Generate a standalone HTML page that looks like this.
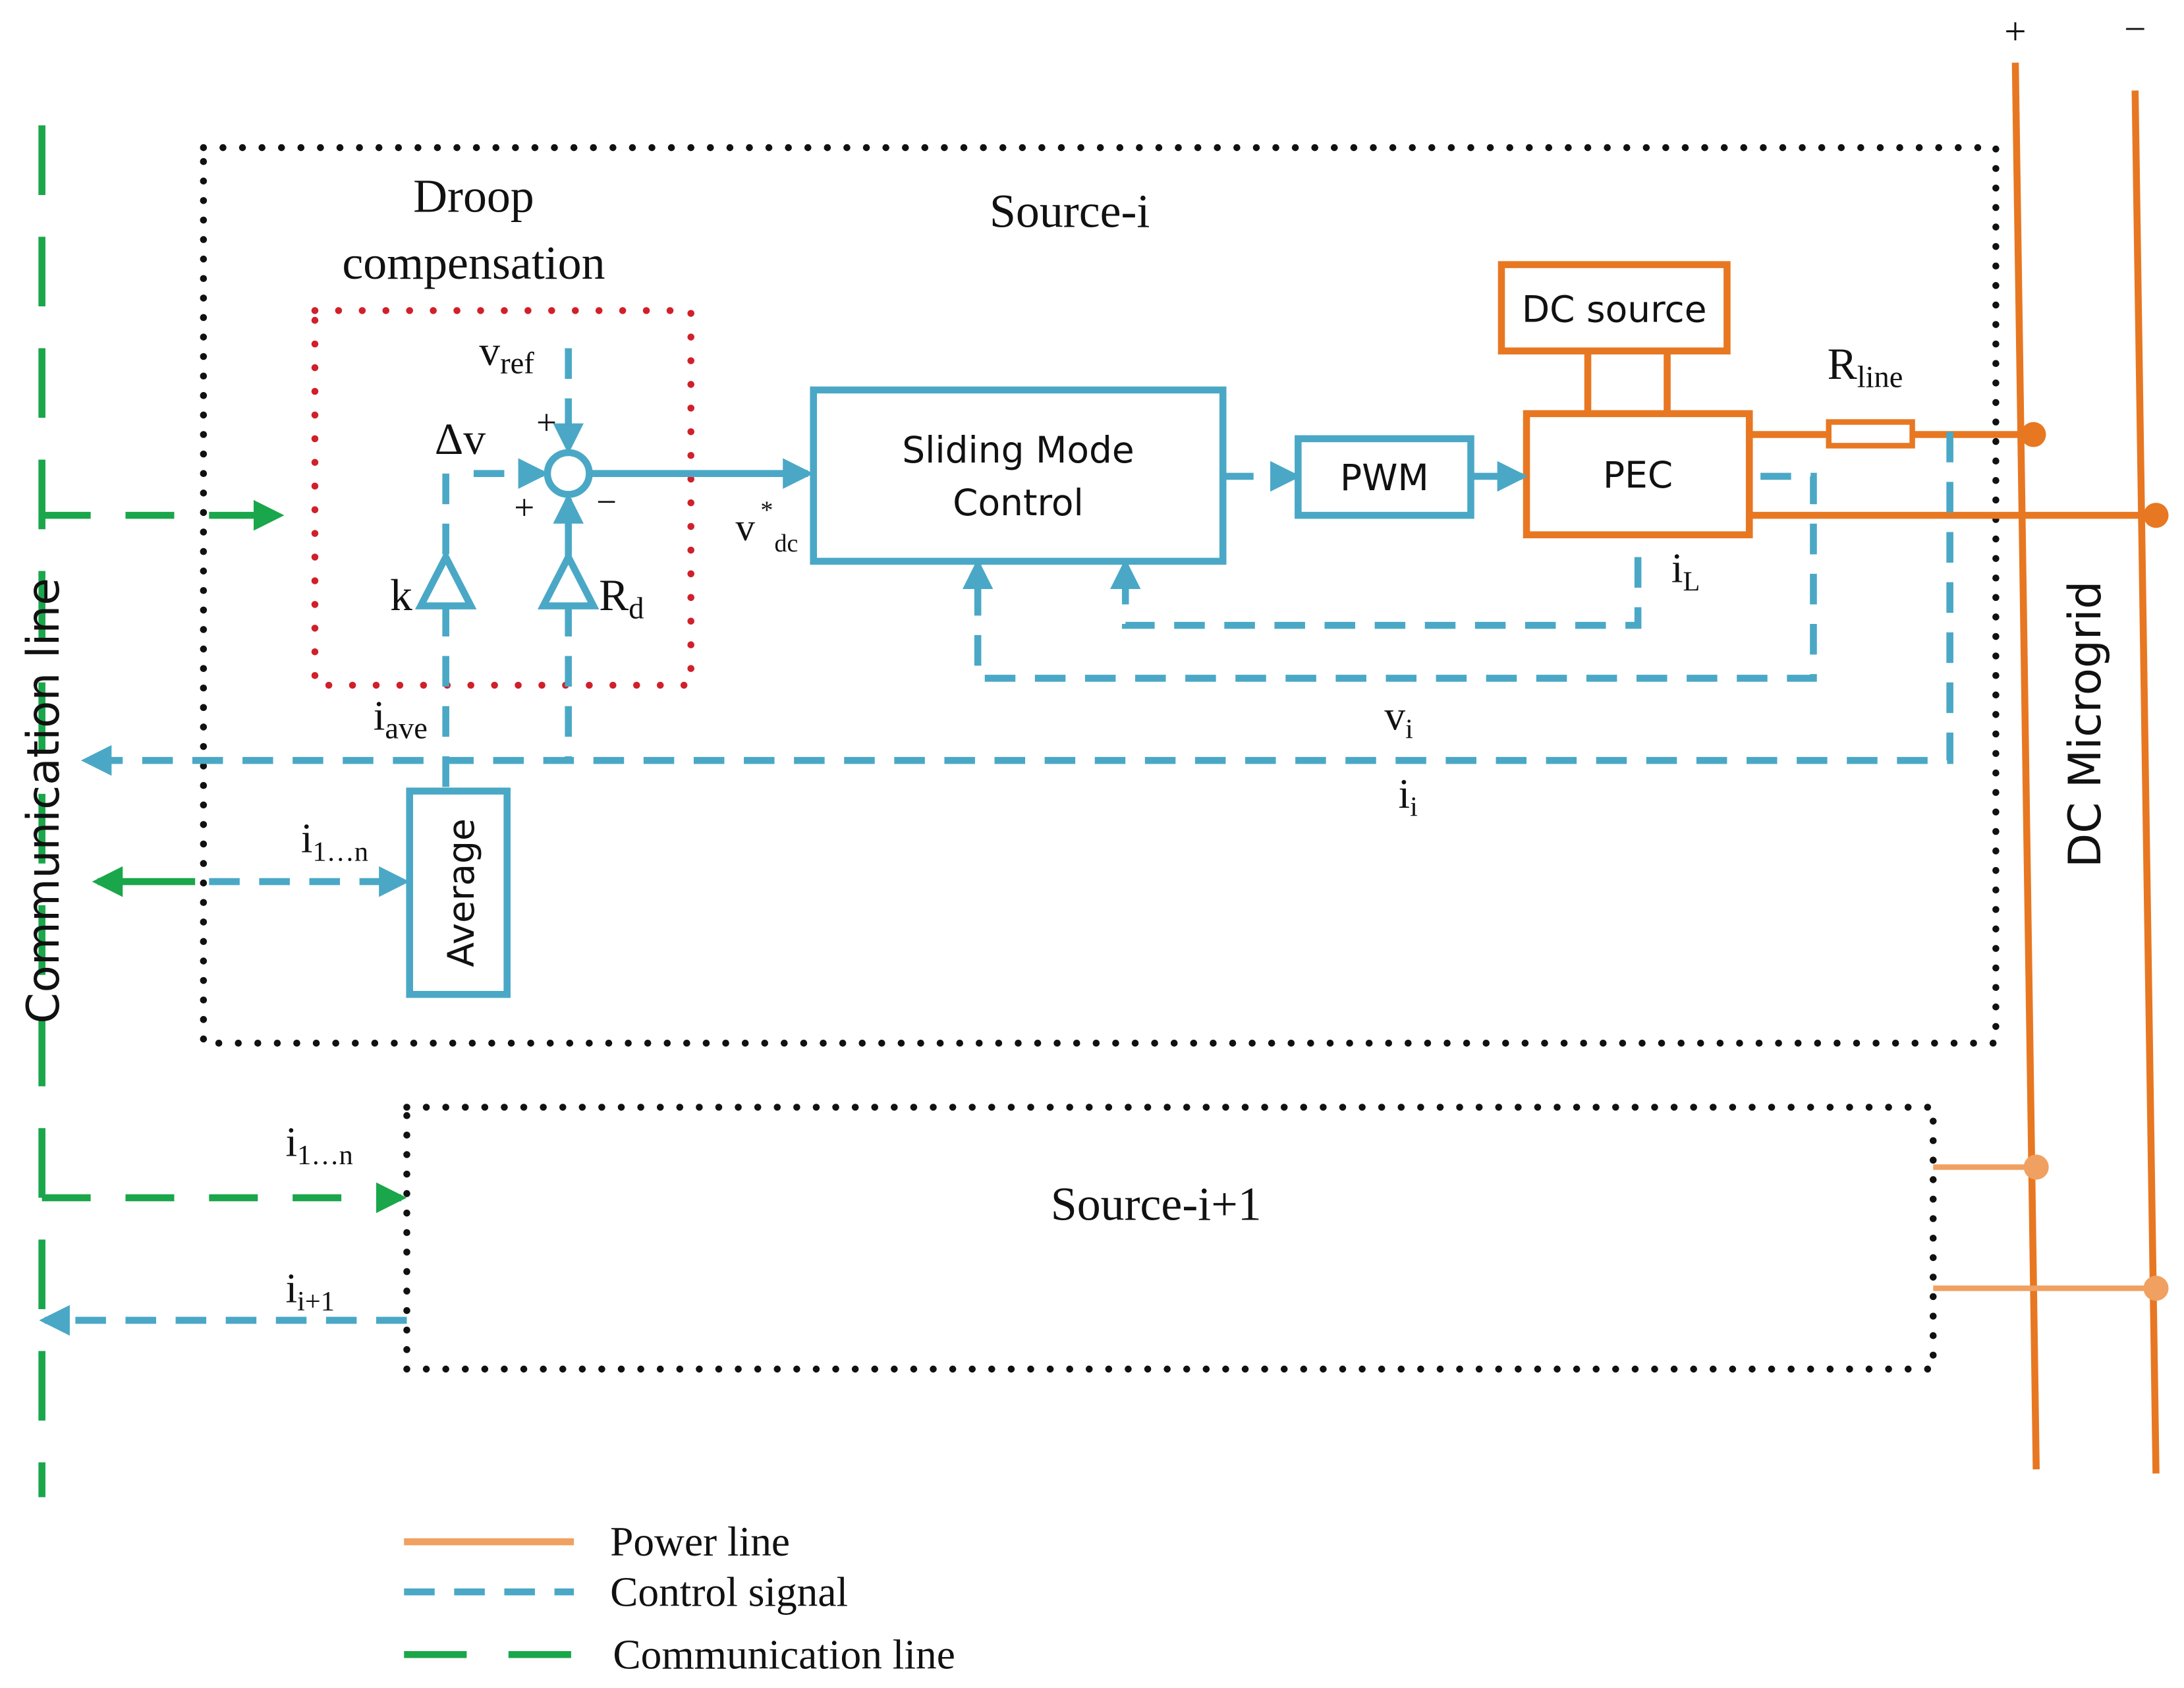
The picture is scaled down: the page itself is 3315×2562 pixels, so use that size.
<!DOCTYPE html>
<html><head><meta charset="utf-8"><style>
html,body{margin:0;padding:0;background:#fff}
svg{display:block}
text{font-family:"Liberation Serif",serif;fill:#111}
.s{font-family:"DejaVu Sans","Liberation Sans",sans-serif}
</style></head><body>
<svg width="3315" height="2562" viewBox="0 0 1568 1212" xmlns="http://www.w3.org/2000/svg">
<defs>
<marker id="ab" markerWidth="4.4" markerHeight="4.4" refX="3.6" refY="2.2" orient="auto" markerUnits="strokeWidth"><path d="M0,0 L4.4,2.2 L0,4.4 z" fill="#4aa8c6"/></marker>
<marker id="ag" markerWidth="4.4" markerHeight="4.4" refX="3.6" refY="2.2" orient="auto" markerUnits="strokeWidth"><path d="M0,0 L4.4,2.2 L0,4.4 z" fill="#1aa64a"/></marker>
</defs>
<g fill="none">
<rect x="146" y="106" width="1287" height="643" stroke="#111" stroke-width="5" stroke-dasharray="0 14" stroke-linecap="round"/>
<rect x="292" y="795" width="1096" height="188" stroke="#111" stroke-width="5" stroke-dasharray="0 14" stroke-linecap="round"/>
<rect x="226" y="223" width="270" height="269" stroke="#d0202a" stroke-width="5" stroke-dasharray="0 17" stroke-linecap="round"/>
<line x1="30" y1="90" x2="30" y2="1075" stroke="#1aa64a" stroke-width="5" stroke-dasharray="50 30"/>
<path d="M30 370 H200" stroke="#1aa64a" stroke-width="5" stroke-dasharray="35 25" marker-end="url(#ag)"/>
<path d="M140 633 H70" stroke="#1aa64a" stroke-width="5" marker-end="url(#ag)"/>
<path d="M30 860 H288" stroke="#1aa64a" stroke-width="5" stroke-dasharray="35 25" marker-end="url(#ag)"/>
<path d="M1447 45 L1462 1055" stroke="#e87722" stroke-width="5"/>
<path d="M1533 65 L1548 1058" stroke="#e87722" stroke-width="5"/>
<rect x="1078" y="190" width="162" height="62" stroke="#e87722" stroke-width="5"/>
<rect x="1096" y="297" width="160" height="87" stroke="#e87722" stroke-width="5"/>
<path d="M1140 252 V297 M1197 252 V297" stroke="#e87722" stroke-width="5"/>
<path d="M1256 312 H1313 M1373 312 H1460" stroke="#e87722" stroke-width="5"/>
<rect x="1313" y="303" width="60" height="17" stroke="#e87722" stroke-width="4"/>
<path d="M1256 370 H1548" stroke="#e87722" stroke-width="5"/>
<circle cx="1460" cy="312" r="9" fill="#e87722"/>
<circle cx="1548" cy="370" r="9" fill="#e87722"/>
<path d="M1388 838 H1462 M1388 925 H1548" stroke="#f0a060" stroke-width="4"/>
<circle cx="1462" cy="838" r="9" fill="#f0a060"/>
<circle cx="1548" cy="925" r="9" fill="#f0a060"/>
<g stroke="#4aa8c6" stroke-width="5">
<rect x="584" y="280" width="294" height="123"/>
<rect x="932" y="315" width="124" height="55"/>
<rect x="294" y="568" width="70" height="146"/>
<circle cx="408" cy="340" r="15"/>
<path d="M320 400 L338 435 L302 435 Z M408 400 L426 435 L390 435 Z"/>
<path d="M423 340 H580" marker-end="url(#ab)"/>
<path d="M408 400 V358" marker-end="url(#ab)"/>
<path d="M1056 342 H1093" marker-end="url(#ab)"/>
</g>
<g stroke="#4aa8c6" stroke-width="5" stroke-dasharray="22 14">
<path d="M408 250 V322" marker-end="url(#ab)"/>
<path d="M340 340 H390" marker-end="url(#ab)"/>
<path d="M320 340 V400"/>
<path d="M320 435 V568"/>
<path d="M408 435 V545"/>
<path d="M878 342 H930" marker-end="url(#ab)"/>
<path d="M1176 400 V449 H808 V405" marker-end="url(#ab)"/>
<path d="M1264 342 H1302 V487 H702 V405" marker-end="url(#ab)"/>
<path d="M1400 310 V546 H62" marker-end="url(#ab)"/>
<path d="M150 633 H290" marker-end="url(#ab)"/>
<path d="M292 948 H32" marker-end="url(#ab)"/>
</g>
<path d="M290 1107 H412" stroke="#f0a060" stroke-width="5"/>
<path d="M290 1143 H412" stroke="#4aa8c6" stroke-width="5" stroke-dasharray="22 14"/>
<path d="M290 1188 H412" stroke="#1aa64a" stroke-width="5" stroke-dasharray="45 30"/>
</g>
<text x="340" y="152" font-size="34" text-anchor="middle">Droop</text>
<text x="340" y="200" font-size="34" text-anchor="middle">compensation</text>
<text x="768" y="163" font-size="34" text-anchor="middle">Source-i</text>
<text x="830" y="876" font-size="34" text-anchor="middle">Source-i+1</text>
<text x="344" y="262" font-size="30">v<tspan font-size="22" dy="6">ref</tspan></text>
<text x="385" y="312" font-size="26">+</text>
<text x="369" y="373" font-size="26">+</text>
<text x="428" y="369" font-size="26">−</text>
<text x="312" y="326" font-size="32">Δv</text>
<text x="280" y="438" font-size="32">k</text>
<text x="430" y="438" font-size="32">R<tspan font-size="22" dy="6">d</tspan></text>
<text x="528" y="388" font-size="28">v</text>
<text x="546" y="372" font-size="18">*</text>
<text x="556" y="396" font-size="18">dc</text>
<text x="268" y="524" font-size="30">i<tspan font-size="22" dy="6">ave</tspan></text>
<text x="216" y="612" font-size="30">i<tspan font-size="20" dy="6">1…n</tspan></text>
<text x="205" y="830" font-size="30">i<tspan font-size="20" dy="6">1…n</tspan></text>
<text x="205" y="935" font-size="30">i<tspan font-size="20" dy="6">i+1</tspan></text>
<text x="1200" y="418" font-size="30">i<tspan font-size="20" dy="6">L</tspan></text>
<text x="1312" y="272" font-size="32">R<tspan font-size="22" dy="6">line</tspan></text>
<text x="994" y="524" font-size="30">v<tspan font-size="20" dy="6">i</tspan></text>
<text x="1004" y="580" font-size="30">i<tspan font-size="20" dy="6">i</tspan></text>
<text x="1447" y="32" font-size="28" text-anchor="middle">+</text>
<text x="1533" y="30" font-size="28" text-anchor="middle">−</text>
<text class="s" x="731" y="332" font-size="26" text-anchor="middle">Sliding Mode</text>
<text class="s" x="731" y="370" font-size="26" text-anchor="middle">Control</text>
<text class="s" x="994" y="352" font-size="26" text-anchor="middle">PWM</text>
<text class="s" x="1176" y="350" font-size="26" text-anchor="middle">PEC</text>
<text class="s" x="1159" y="231" font-size="26" text-anchor="middle">DC source</text>
<text class="s" x="0" y="0" font-size="26" text-anchor="middle" transform="translate(340 641) rotate(-90)">Average</text>
<text class="s" x="0" y="0" font-size="32" text-anchor="middle" transform="translate(42 575) rotate(-90)">Communication line</text>
<text class="s" x="0" y="0" font-size="32" text-anchor="middle" transform="translate(1508 520) rotate(-90)">DC Microgrid</text>
<text x="438" y="1117" font-size="30">Power line</text>
<text x="438" y="1153" font-size="30">Control signal</text>
<text x="440" y="1198" font-size="30">Communication line</text>
</svg>
</body></html>
